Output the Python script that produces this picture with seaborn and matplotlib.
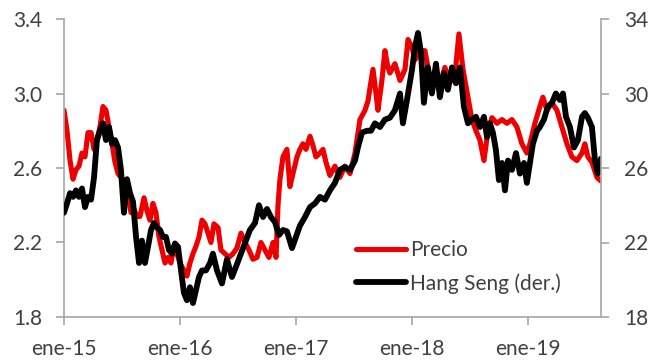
import matplotlib
matplotlib.use("Agg")
import matplotlib.pyplot as plt
import seaborn as sns
import pandas as pd

# --- Data ---
# time as decimal years
t_precio = [2015.000, 2015.026, 2015.052, 2015.078, 2015.103, 2015.129, 2015.155, 2015.181, 2015.207, 2015.233,
            2015.259, 2015.284, 2015.310, 2015.336, 2015.362, 2015.388, 2015.414, 2015.440, 2015.466, 2015.491,
            2015.517, 2015.543, 2015.578, 2015.603, 2015.629, 2015.655, 2015.690, 2015.716, 2015.741, 2015.767,
            2015.793, 2015.819, 2015.845, 2015.871, 2015.897, 2015.922, 2015.948, 2015.974, 2016.000, 2016.034,
            2016.060, 2016.086, 2016.112, 2016.138, 2016.164, 2016.190, 2016.216, 2016.241, 2016.267, 2016.293,
            2016.328, 2016.353, 2016.388, 2016.422, 2016.457, 2016.491, 2016.526, 2016.560, 2016.595, 2016.629,
            2016.664, 2016.698, 2016.733, 2016.767, 2016.802, 2016.828, 2016.845, 2016.862, 2016.888, 2016.922,
            2016.948, 2016.974, 2017.009, 2017.034, 2017.060, 2017.086, 2017.121, 2017.147, 2017.172, 2017.207,
            2017.233, 2017.259, 2017.293, 2017.336, 2017.379, 2017.422, 2017.466, 2017.509, 2017.552, 2017.595,
            2017.621, 2017.638, 2017.664, 2017.690, 2017.707, 2017.741, 2017.767, 2017.793, 2017.810, 2017.853,
            2017.897, 2017.940, 2017.966, 2018.000, 2018.026, 2018.069, 2018.112, 2018.155, 2018.198, 2018.241,
            2018.284, 2018.328, 2018.371, 2018.405, 2018.440, 2018.483, 2018.517, 2018.552, 2018.586, 2018.621,
            2018.655, 2018.690, 2018.733, 2018.776, 2018.819, 2018.862, 2018.905, 2018.948, 2018.991, 2019.017,
            2019.060, 2019.103, 2019.129, 2019.164, 2019.207, 2019.250, 2019.293, 2019.336, 2019.379, 2019.422,
            2019.466, 2019.491, 2019.517, 2019.552, 2019.595, 2019.629]
precio = [2.91, 2.80, 2.64, 2.54, 2.59, 2.61, 2.68, 2.66, 2.79, 2.79,
          2.70, 2.75, 2.82, 2.93, 2.91, 2.82, 2.73, 2.63, 2.57, 2.55,
          2.52, 2.48, 2.36, 2.38, 2.34, 2.34, 2.44, 2.37, 2.32, 2.41,
          2.36, 2.23, 2.16, 2.09, 2.12, 2.09, 2.18, 2.14, 2.09, 2.05,
          2.02, 2.09, 2.14, 2.18, 2.23, 2.32, 2.30, 2.25, 2.20, 2.30,
          2.28, 2.16, 2.14, 2.12, 2.14, 2.17, 2.25, 2.20, 2.16, 2.11,
          2.12, 2.20, 2.16, 2.12, 2.20, 2.12, 2.40, 2.54, 2.66, 2.70,
          2.50, 2.57, 2.66, 2.70, 2.73, 2.70, 2.77, 2.72, 2.66, 2.68,
          2.70, 2.63, 2.56, 2.61, 2.55, 2.61, 2.57, 2.68, 2.86, 2.91,
          2.96, 3.03, 3.13, 3.00, 2.91, 3.07, 3.23, 3.14, 3.11, 3.16,
          3.07, 3.13, 3.29, 3.25, 3.18, 3.23, 3.23, 3.08, 3.10, 3.05,
          3.14, 3.06, 3.10, 3.32, 3.13, 2.98, 2.86, 2.80, 2.75, 2.64,
          2.80, 2.87, 2.84, 2.86, 2.84, 2.86, 2.82, 2.73, 2.68, 2.73,
          2.84, 2.93, 2.98, 2.91, 2.95, 2.91, 2.82, 2.73, 2.66, 2.64,
          2.68, 2.73, 2.66, 2.63, 2.55, 2.53]

t_hang = [2015.000, 2015.026, 2015.052, 2015.078, 2015.103, 2015.129, 2015.155, 2015.181, 2015.207, 2015.233,
          2015.259, 2015.284, 2015.310, 2015.336, 2015.362, 2015.388, 2015.414, 2015.440, 2015.466, 2015.491,
          2015.517, 2015.543, 2015.569, 2015.595, 2015.621, 2015.647, 2015.672, 2015.698, 2015.724, 2015.750,
          2015.776, 2015.802, 2015.828, 2015.853, 2015.879, 2015.905, 2015.931, 2015.957, 2015.983, 2016.009,
          2016.034, 2016.060, 2016.086, 2016.112, 2016.138, 2016.164, 2016.190, 2016.224, 2016.259, 2016.284,
          2016.319, 2016.362, 2016.405, 2016.448, 2016.483, 2016.526, 2016.560, 2016.603, 2016.647, 2016.681,
          2016.716, 2016.750, 2016.784, 2016.819, 2016.853, 2016.888, 2016.922, 2016.966, 2017.000, 2017.034,
          2017.078, 2017.121, 2017.164, 2017.207, 2017.250, 2017.293, 2017.336, 2017.379, 2017.422, 2017.466,
          2017.509, 2017.534, 2017.569, 2017.612, 2017.647, 2017.681, 2017.724, 2017.767, 2017.810, 2017.853,
          2017.897, 2017.922, 2017.957, 2018.000, 2018.026, 2018.052, 2018.078, 2018.103, 2018.138, 2018.172,
          2018.207, 2018.241, 2018.276, 2018.310, 2018.345, 2018.379, 2018.414, 2018.448, 2018.483, 2018.517,
          2018.552, 2018.586, 2018.621, 2018.647, 2018.672, 2018.698, 2018.724, 2018.750, 2018.776, 2018.802,
          2018.828, 2018.862, 2018.897, 2018.931, 2018.966, 2018.991, 2019.017, 2019.043, 2019.078, 2019.103,
          2019.138, 2019.172, 2019.207, 2019.241, 2019.276, 2019.302, 2019.328, 2019.362, 2019.397, 2019.431,
          2019.466, 2019.491, 2019.517, 2019.552, 2019.578, 2019.603, 2019.629]
hang_seng = [23.6, 24.1, 24.65, 24.45, 24.8, 24.45, 24.9, 23.9, 24.45, 24.3,
             25.5, 27.5, 28.0, 28.4, 27.5, 28.2, 27.3, 27.5, 27.1, 25.9,
             23.6, 25.4, 24.65, 24.2, 22.3, 20.9, 22.1, 20.9, 21.76, 22.67,
             23.05, 22.8, 22.67, 22.3, 22.3, 21.6, 21.4, 21.95, 21.76, 20.5,
             19.3, 18.9, 19.6, 18.75, 19.45, 20.15, 20.5, 20.5, 20.9, 21.4,
             20.5, 19.8, 21.1, 20.15, 20.7, 21.4, 21.95, 22.67, 23.05, 24.0,
             23.37, 23.8, 23.37, 23.1, 22.4, 22.67, 22.6, 21.7, 22.3, 22.9,
             23.37, 23.9, 24.1, 24.45, 24.3, 24.8, 25.2, 25.9, 26.05, 25.9,
             26.4, 27.1, 27.9, 28.0, 28.0, 28.4, 28.2, 28.6, 28.7, 29.1,
             30.0, 28.4, 29.65, 31.26, 32.5, 33.25, 32.2, 29.5, 31.4, 30.0,
             31.6, 29.8, 31.1, 30.2, 31.4, 30.55, 31.4, 29.3, 28.4, 28.6,
             28.75, 28.2, 28.75, 27.65, 28.4, 27.9, 26.97, 25.35, 26.27, 24.8,
             26.4, 25.9, 26.8, 25.7, 26.27, 25.2, 26.27, 27.3, 28.0, 28.2,
             28.6, 29.3, 29.5, 30.0, 29.65, 30.0, 28.75, 28.2, 27.1, 27.5,
             28.75, 28.95, 28.7, 28.2, 26.4, 25.7, 26.5]

x_tick_years = [2015, 2016, 2017, 2018, 2019]
x_tick_labels = ["ene-15", "ene-16", "ene-17", "ene-18", "ene-19"]
left_ticks = [1.8, 2.2, 2.6, 3.0, 3.4]
right_ticks = [18, 22, 26, 30, 34]
series_names = ["Precio", "Hang Seng (der.)"]

df_p = pd.DataFrame({"t": t_precio, "v": precio})
df_h = pd.DataFrame({"t": t_hang, "v": hang_seng})

sns.set_theme(style="white")
plt.rcParams["font.family"] = ["Lato", "DejaVu Sans"]

RED = "#ee0000"
BLACK = "#000000"
GREY = "#a6a6a6"
TXT = "#404040"
FS = 15

fig = plt.figure(figsize=(6.56, 3.60), dpi=100)
ax = fig.add_axes([64/656, 43/360, 537/656, 298/360])
ax2 = ax.twinx()

sns.lineplot(data=df_p, x="t", y="v", ax=ax, color=RED, linewidth=3.7, label=series_names[0], legend=False)
sns.lineplot(data=df_h, x="t", y="v", ax=ax2, color=BLACK, linewidth=4.2, label=series_names[1], legend=False)

ax.set_xlim(2015.0, 2019.63)
ax.set_ylim(1.8, 3.4)
ax2.set_ylim(18, 34)
ax.set_xticks(x_tick_years)
ax.set_xticklabels(x_tick_labels)
ax.set_yticks(left_ticks)
ax.set_yticklabels([f"{v:.1f}" for v in left_ticks])
ax2.set_yticks(right_ticks)
ax2.set_yticklabels([str(v) for v in right_ticks])
for a in (ax, ax2):
    a.set_xlabel("")
    a.set_ylabel("")
    a.grid(False)
    for s in a.spines.values():
        s.set_color(GREY)
        s.set_linewidth(1.2)
    a.spines["top"].set_visible(False)

ax.spines["right"].set_visible(False)
ax2.spines["left"].set_visible(False)
ax2.spines["bottom"].set_visible(False)

ax.tick_params(axis="both", which="major", direction="out", length=5.5, width=1.2,
               color=GREY, labelcolor=TXT, labelsize=FS, left=True, bottom=True)
ax.tick_params(axis="y", pad=10)
ax.tick_params(axis="x", pad=10)
ax2.tick_params(axis="y", direction="out", length=5.5, width=1.2, color=GREY,
                labelcolor=TXT, labelsize=FS, right=True, pad=11)

h1, l1 = ax.get_legend_handles_labels()
h2, l2 = ax2.get_legend_handles_labels()
leg = ax2.legend(h1 + h2, l1 + l2, loc="upper left", bbox_to_anchor=(0.544, 0.258),
                 frameon=False, fontsize=FS, handlelength=2.4, handletextpad=0.2,
                 labelspacing=0.62, borderaxespad=0, borderpad=0)
for txt in leg.get_texts():
    txt.set_color(TXT)

fig.savefig("out.png", dpi=100)
